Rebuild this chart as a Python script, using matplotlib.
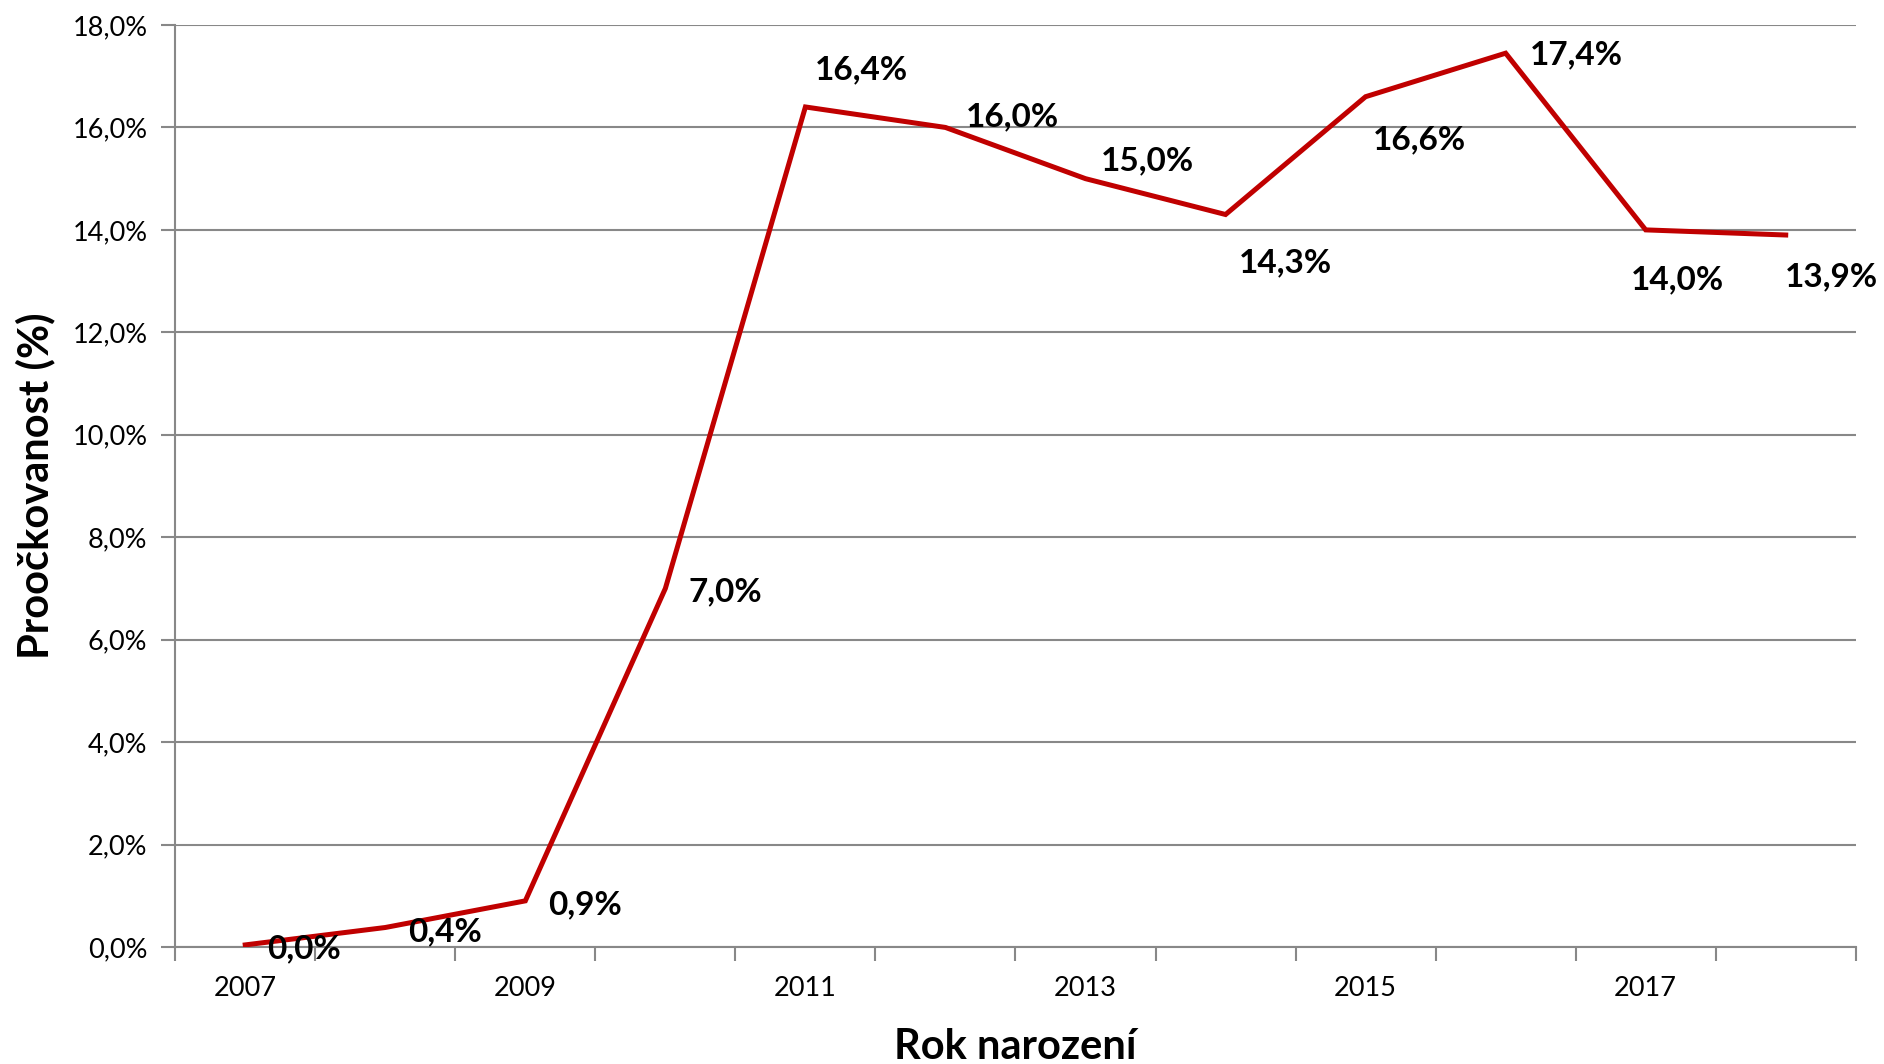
import matplotlib
matplotlib.use("Agg")
import matplotlib.pyplot as plt
from matplotlib.ticker import FixedLocator, NullFormatter

# data
years = [2007, 2008, 2009, 2010, 2011, 2012, 2013, 2014, 2015, 2016, 2017, 2018]
values = [0.04, 0.38, 0.9, 7.0, 16.4, 16.0, 15.0, 14.3, 16.6, 17.45, 14.0, 13.9]
labels = ["0,0%", "0,4%", "0,9%", "7,0%", "16,4%", "16,0%", "15,0%",
          "14,3%", "16,6%", "17,4%", "14,0%", "13,9%"]
y_ticks = [0, 2, 4, 6, 8, 10, 12, 14, 16, 18]

# label offsets from point (pixels)
offsets = [(59, -4), (60, -4), (60, -4), (60, -3), (56, 37), (67, 11),
           (62, 18), (60, -48), (54, -43), (71, -2), (32, -50), (46, -42)]

plt.rcParams["font.family"] = ["Lato", "DejaVu Sans"]

fig = plt.figure(figsize=(18.84, 10.64), dpi=100)
ax = fig.add_axes([0.093, 0.110, 0.892, 0.8665])

xs = list(range(len(years)))
ax.plot(xs, values, color="#C00000", lw=3.6, solid_joinstyle="miter", zorder=3)

for x, v, t, (dx, dy) in zip(xs, values, labels, offsets):
    ax.annotate(t, (x, v), xytext=(dx, dy), textcoords="offset pixels",
                ha="center", va="center", fontsize=24, fontweight="bold",
                color="black", zorder=4)

ax.set_xlim(-0.5, len(years) - 0.5)
ax.set_ylim(0, 18)

# category boundaries as tick marks, labels every other year
ax.xaxis.set_major_locator(FixedLocator([i - 0.5 for i in range(len(years) + 1)]))
ax.xaxis.set_major_formatter(NullFormatter())
ax.xaxis.set_minor_locator(FixedLocator(xs[::2]))
ax.set_xticklabels([str(y) for y in years[::2]], minor=True)
ax.tick_params(axis="x", which="major", length=10, width=1.5, color="#888888", direction="out")
ax.tick_params(axis="x", which="minor", length=0, pad=21, labelsize=19.5)

ax.set_yticks(y_ticks)
ax.set_yticklabels([f"{v:.1f}%".replace(".", ",") for v in y_ticks])
ax.tick_params(axis="y", length=10, width=1.5, color="#888888", labelsize=19.5, pad=10)

ax.grid(axis="y", color="#888888", lw=1.5)
ax.set_axisbelow(True)
for s in ["top", "right"]:
    ax.spines[s].set_visible(False)
for s in ["left", "bottom"]:
    ax.spines[s].set_color("#888888")
    ax.spines[s].set_linewidth(1.5)

ax.set_xlabel("Rok narození", fontsize=30, fontweight="bold", labelpad=19)
ax.set_ylabel("Proočkovanost (%)", fontsize=30, fontweight="bold", labelpad=12)

fig.savefig("out.png", dpi=100)
